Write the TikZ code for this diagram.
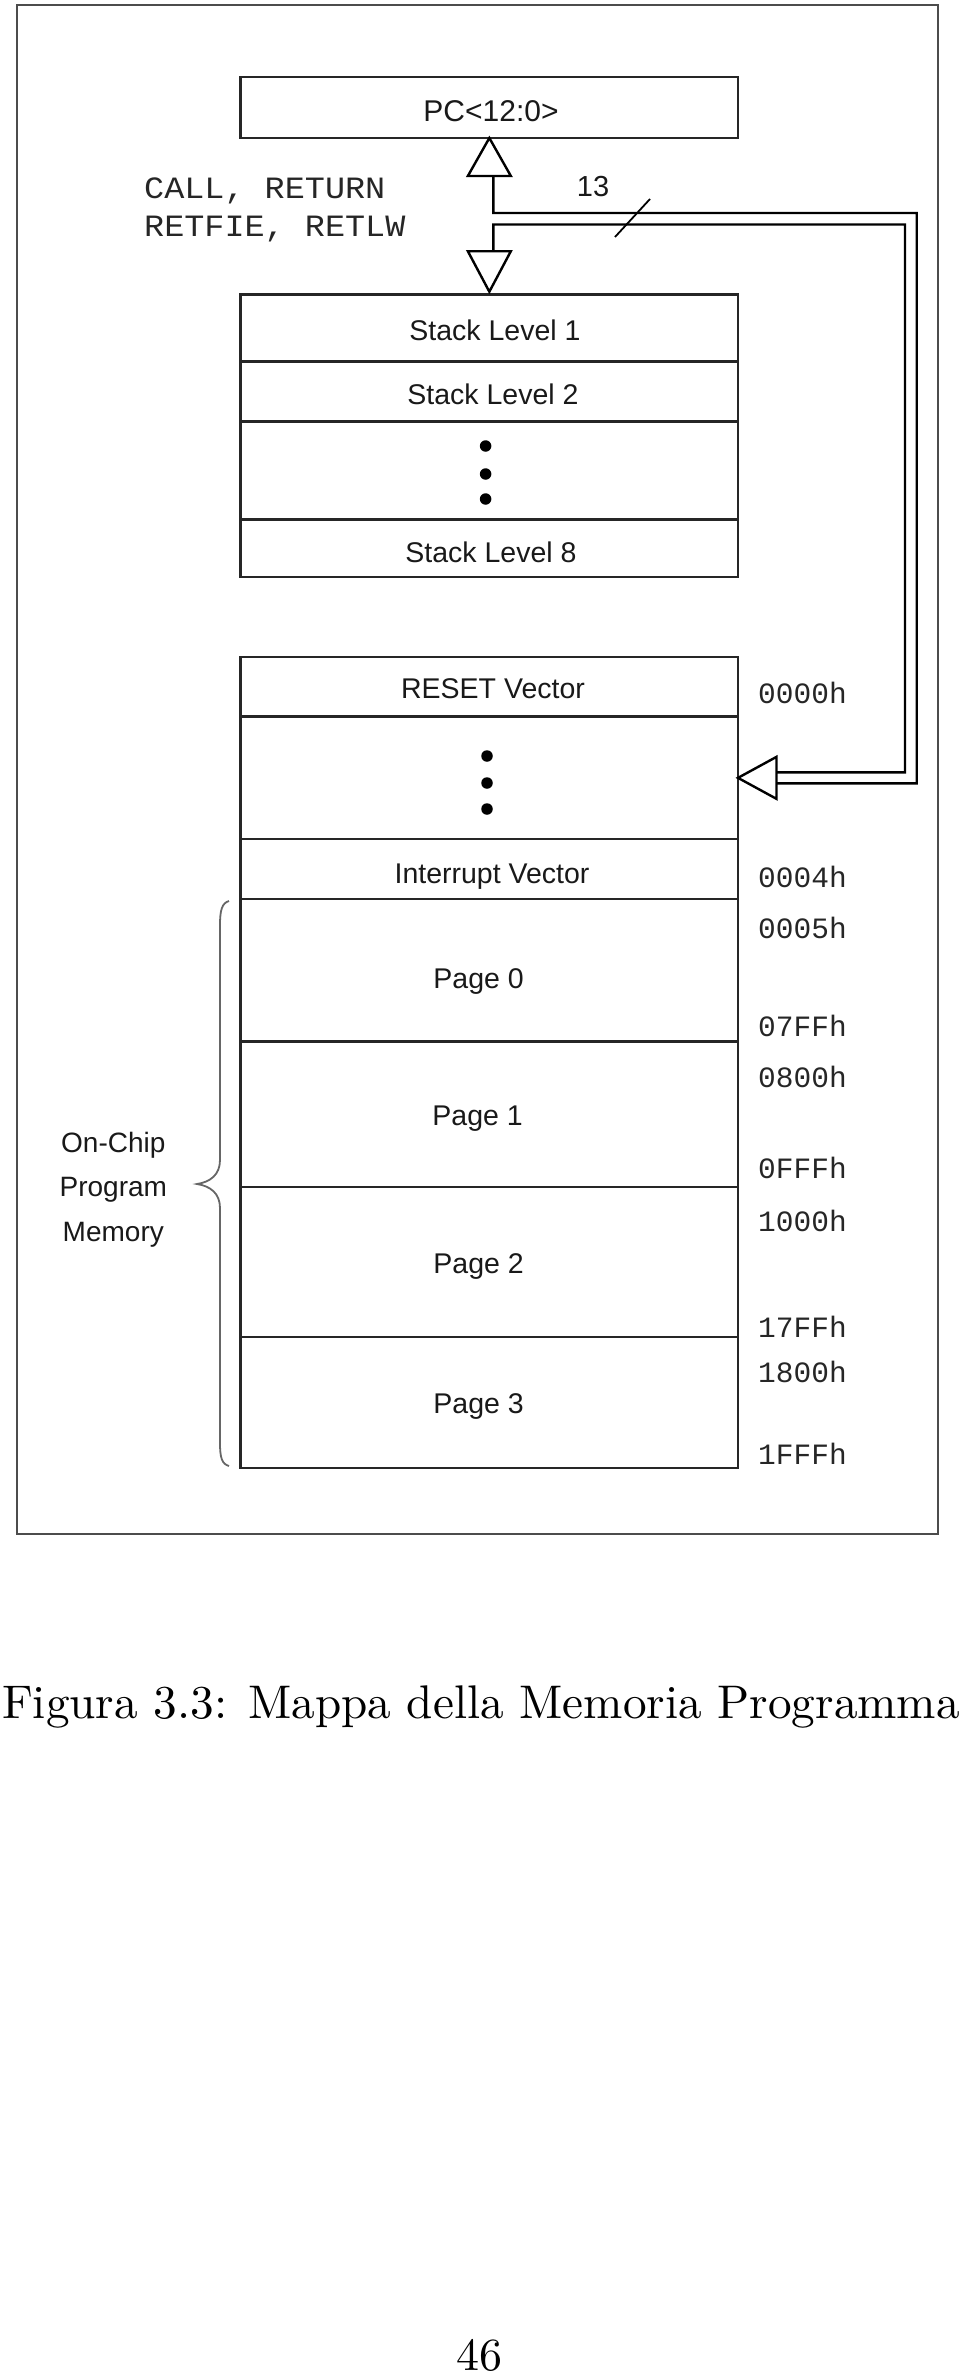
\documentclass[tikz,border=0pt]{standalone}
\usepackage{fontspec}
\usetikzlibrary{calc}
\newfontfamily\arialf{Liberation Sans}
\newfontfamily\courf{Liberation Mono}
\newfontfamily\capf{lmroman10-regular.otf}
\begin{document}
\begin{tikzpicture}[x=1pt,y=-1pt,
  cell/.style={draw=black!85, line width=2.6pt, minimum width=497.3pt, inner sep=0, outer sep=0},
  lbl/.style={font=\arialf\fontsize{28.5}{30}\selectfont, anchor=base, inner sep=0, text=black!90},
  addr/.style={font=\courf\fontsize{29.5}{31}\selectfont, anchor=base west, inner sep=0, text=black!85},
  instr/.style={font=\courf\fontsize{31}{33}\selectfont, anchor=base west, inner sep=0, text=black!85, xscale=1.08},
  blob/.style={circle, fill=black, inner sep=0, minimum size=11.5pt},
  bus/.style={draw=black, line width=2.4pt, line join=miter},
  frame/.style={draw=black!70, line width=2.5pt},
  brace/.style={draw=black!60, line width=1.8pt}
]
\useasboundingbox (0,0) rectangle (960,2375);

% outer frame
\draw[frame] (17,5) rectangle (938,1534);

% PC register
\node[cell, minimum height=61pt] (pc) at (489.35,107.5) {};
\node[lbl, font=\arialf\fontsize{30}{32}\selectfont] (pct) at (491,121.7) {PC<12:0>};

% stack
\node[cell, minimum height=66.9pt] (s1) at (489.35,328.15) {};
\node[cell, minimum height=60.1pt] (s2) at (489.35,391.65) {};
\node[cell, minimum height=97.6pt] (s3) at (489.35,470.5) {};
\node[cell, minimum height=57.7pt] (s8) at (489.35,548.15) {};
\node[lbl] (s1t) at (495,340) {Stack Level 1};
\node[lbl] (s2t) at (493,404.5) {Stack Level 2};
\node[lbl] (s8t) at (491,562) {Stack Level 8};
\node[blob] (sd1) at (485.6,446) {};
\node[blob] (sd2) at (485.6,474) {};
\node[blob] (sd3) at (485.6,499) {};

% program memory
\node[cell, minimum height=59.7pt] (m0) at (489.35,686.85) {};
\node[cell, minimum height=122.3pt] (m1) at (489.35,777.85) {};
\node[cell, minimum height=60pt] (m2) at (489.35,869) {};
\node[cell, minimum height=142.7pt] (p0) at (489.35,970.35) {};
\node[cell, minimum height=145.3pt] (p1) at (489.35,1114.35) {};
\node[cell, minimum height=150pt] (p2) at (489.35,1262) {};
\node[cell, minimum height=131pt] (p3) at (489.35,1402.5) {};
\node[lbl] (m0t) at (493,698) {RESET Vector};
\node[blob] (md1) at (487,756) {};
\node[blob] (md2) at (487,783) {};
\node[blob] (md3) at (487,809) {};
\node[lbl] (m2t) at (492,883) {Interrupt Vector};
\node[lbl] (p0t) at (478.6,988.3) {Page 0};
\node[lbl] (p1t) at (477.6,1125) {Page 1};
\node[lbl] (p2t) at (478.6,1273.3) {Page 2};
\node[lbl] (p3t) at (478.6,1413.3) {Page 3};

% addresses
\node[addr] (a0) at (758,703.3) {0000h};
\node[addr] (a1) at (758,887) {0004h};
\node[addr] (a2) at (758,938.7) {0005h};
\node[addr] (a3) at (758,1036.4) {07FFh};
\node[addr] (a4) at (758,1087.7) {0800h};
\node[addr] (a5) at (758,1178) {0FFFh};
\node[addr] (a6) at (758,1231.4) {1000h};
\node[addr] (a7) at (758,1337) {17FFh};
\node[addr] (a8) at (758,1382) {1800h};
\node[addr] (a9) at (758,1464.7) {1FFFh};

% instructions
\node[instr] (i1) at (144,198.3) {CALL, RETURN};
\node[instr] (i2) at (144,236) {RETFIE, RETLW};

% bus arrows
\draw[bus] (pc.south) -- ++(21.5,38) -- ++(-43,0) -- cycle;
\draw[bus] ($(s1.north)+(0,-3)$) -- ++(21.5,-40.5) -- ++(-43,0) -- cycle;
\draw[bus] (m1.east) -- ++(38.5,-21) -- ++(0,42) -- cycle;
\draw[bus] ($(pc.south)+(4,38)$) -- (493.35,213) -- (916.7,213) -- (916.7,783.3) -- ($(m1.east)+(38.5,5.5)$);
\draw[bus] ($(s1.north)+(4,-43.5)$) -- (493.35,224.5) -- (905,224.5) -- (905,772.3) -- ($(m1.east)+(38.5,-5.5)$);
\draw[draw=black, line width=1.8pt] (615,237) -- (650,199);
\node[lbl, font=\arialf\fontsize{29}{31}\selectfont] (n13) at (593,196) {13};

% brace
\draw[brace] (229,901) .. controls (222,903) and (220,910) .. (220,925)
  -- (220,1160) .. controls (220,1175) and (210,1182) .. (197,1184)
  .. controls (210,1186) and (220,1193) .. (220,1208)
  -- (220,1443) .. controls (220,1458) and (222,1464) .. (229,1466);
\node[lbl, font=\arialf\fontsize{28}{30}\selectfont] (oc1) at (113.3,1152.7) {On-Chip};
\node[lbl, font=\arialf\fontsize{28}{30}\selectfont] (oc2) at (113.3,1196.7) {Program};
\node[lbl, font=\arialf\fontsize{28}{30}\selectfont] (oc3) at (113.3,1241.7) {Memory};

% caption and page number
\node[anchor=base, inner sep=0, font=\capf\fontsize{47.2}{56}\selectfont] (cap) at (481,1718) {Figura 3.3: Mappa della Memoria Programma};
\node[anchor=base, inner sep=0, font=\capf\fontsize{46}{50}\selectfont] (pg) at (479,2370.5) {46};
\end{tikzpicture}
\end{document}
